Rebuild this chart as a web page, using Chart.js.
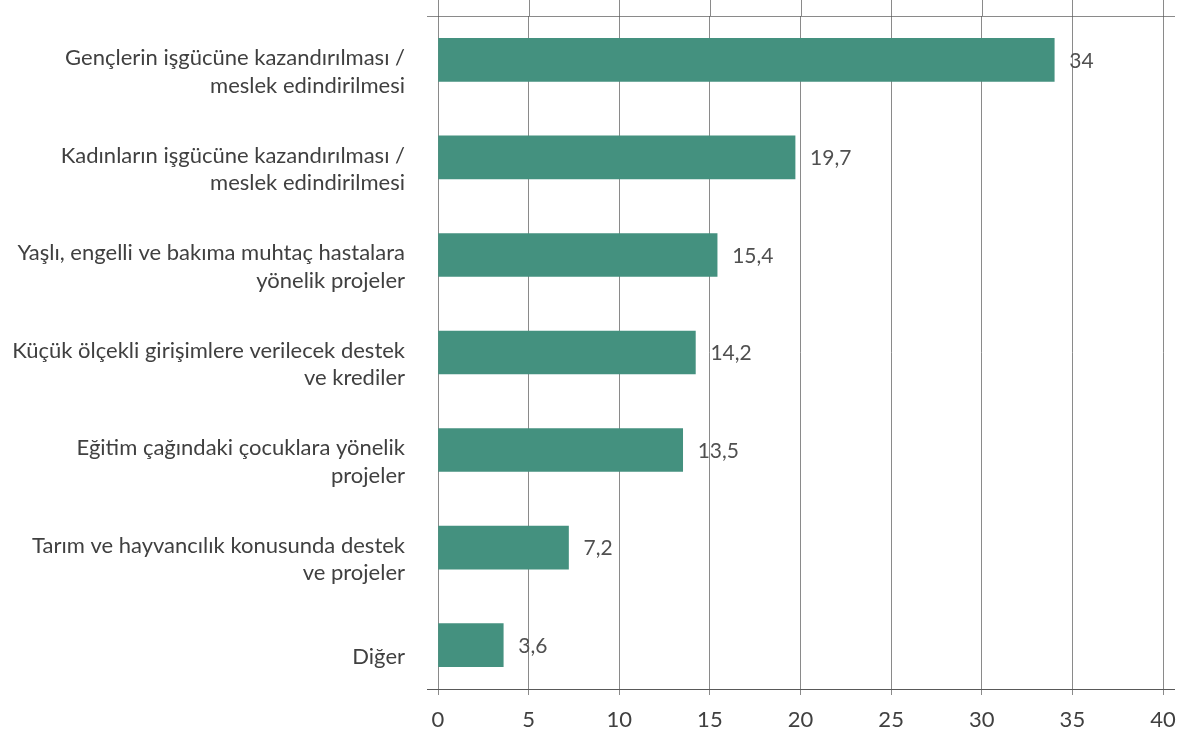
<!DOCTYPE html>
<html lang="tr">
<head>
<meta charset="utf-8">
<title>Proje türleri</title>
<script src="https://cdn.jsdelivr.net/npm/chart.js@4/dist/chart.umd.min.js"></script>
<style>
    html, body { margin: 0; padding: 0; background: #fff; }
    #wrap { width: 1185px; height: 736px; }
</style>
</head>
<body>
<div id="wrap"><canvas id="projectChart" width="1185" height="736"></canvas></div>
<script>
const categories = [
    ["Gençlerin işgücüne kazandırılması /", "meslek edindirilmesi"],
    ["Kadınların işgücüne kazandırılması /", "meslek edindirilmesi"],
    ["Yaşlı, engelli ve bakıma muhtaç hastalara", "yönelik projeler"],
    ["Küçük ölçekli girişimlere verilecek destek", "ve krediler"],
    ["Eğitim çağındaki çocuklara yönelik", "projeler"],
    ["Tarım ve hayvancılık konusunda destek", "ve projeler"],
    "Diğer"
];
const shares = [34, 19.7, 15.4, 14.2, 13.5, 7.2, 3.6];
const xTicks = [0, 5, 10, 15, 20, 25, 30, 35, 40];

const barColor = "#44917f";
const textColor = "#404040";
const gridColor = "rgba(89, 89, 89, 0.7)";

// value labels to the right of each bar, Turkish decimal comma
const valueLabels = {
    id: "valueLabels",
    afterDatasetsDraw(chart) {
        const ctx = chart.ctx;
        const meta = chart.getDatasetMeta(0);
        ctx.save();
        ctx.font = "21px Lato";
        ctx.fillStyle = "#505050";
        ctx.textAlign = "left";
        ctx.textBaseline = "middle";
        meta.data.forEach((bar, i) => {
            ctx.fillText(String(shares[i]).replace(".", ","), bar.x + 15, bar.y + 1);
        });
        ctx.restore();
    }
};

// frame lines: gridlines run up past the top rule, rules stick out a bit on both sides
const frame = {
    id: "frame",
    afterDraw(chart) {
        const { ctx, chartArea } = chart;
        const x = chart.scales.x;
        ctx.save();
        ctx.lineWidth = 1;
        ctx.strokeStyle = gridColor;
        xTicks.forEach(v => {
            const px = Math.round(x.getPixelForValue(v)) + 0.5;
            ctx.beginPath();
            ctx.moveTo(px, 0);
            ctx.lineTo(px, chartArea.top);
            ctx.stroke();
        });
        ctx.beginPath();
        ctx.moveTo(chartArea.left - 11, chartArea.top + 0.5);
        ctx.lineTo(chartArea.right + 12, chartArea.top + 0.5);
        ctx.stroke();
        ctx.strokeStyle = "#595959";
        ctx.beginPath();
        ctx.moveTo(chartArea.left - 11, chartArea.bottom + 0.5);
        ctx.lineTo(chartArea.right + 12, chartArea.bottom + 0.5);
        ctx.stroke();
        ctx.restore();
    }
};

new Chart(document.getElementById("projectChart"), {
    type: "bar",
    data: {
        datasets: [{
            data: shares.map((v, i) => ({ x: v, y: i })),
            backgroundColor: barColor,
            barThickness: 43
        }]
    },
    options: {
        indexAxis: "y",
        responsive: false,
        animation: false,
        layout: { padding: { top: 16, right: 22, left: 0, bottom: 0 } },
        plugins: {
            legend: { display: false },
            tooltip: { enabled: false }
        },
        scales: {
            x: {
                type: "linear",
                min: 0,
                max: 40,
                z: 1,
                afterBuildTicks: scale => { scale.ticks = xTicks.map(v => ({ value: v })); },
                afterFit: scale => {
                    scale.height = 47;
                    scale.paddingLeft = 0;
                    scale.paddingRight = 0;
                },
                grid: { color: gridColor, lineWidth: 1, tickLength: 6 },
                border: { display: false },
                ticks: {
                    color: textColor,
                    padding: 12,
                    font: { family: "Lato", size: 22 }
                }
            },
            y: {
                type: "linear",
                reverse: true,
                offset: false,
                min: -0.45,
                max: 6.45,
                afterBuildTicks: scale => { scale.ticks = categories.map((c, i) => ({ value: i })); },
                afterFit: scale => {
                    scale.width = 438;
                    scale.paddingTop = 0;
                    scale.paddingBottom = 0;
                },
                grid: { display: false, drawTicks: false },
                border: { display: false },
                ticks: {
                    color: textColor,
                    padding: 33,
                    labelOffset: 12,
                    autoSkip: false,
                    font: { family: "Lato", size: 22, lineHeight: 1.25 },
                    callback: value => categories[value]
                }
            }
        }
    },
    plugins: [valueLabels, frame]
});
</script>
</body>
</html>
